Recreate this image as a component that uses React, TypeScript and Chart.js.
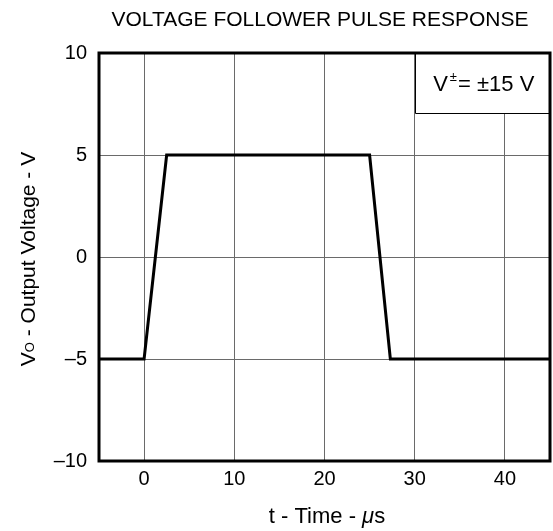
import { useEffect, useRef } from "react";
import { Chart, registerables } from "chart.js";

Chart.register(...registerables);

// ---- data ----
const timeUs = [-5, 0, 2.5, 25, 27.3, 45];
const outputVolts = [-5, -5, 5, 5, -5, -5];
const xTickValues = [0, 10, 20, 30, 40];
const yTickValues = [-10, -5, 0, 5, 10];
const yTickLabels = ["\u201310", "\u20135", "0", "5", "10"];
const titleText = "VOLTAGE FOLLOWER PULSE RESPONSE";
const xTitleMain = "t - Time - ";
const xTitleMu = "\u03bc";
const xTitleUnit = "s";
const yTitleV = "V";
const yTitleSub = "O";
const yTitleRest = " - Output Voltage - V";
const legendV = "V";
const legendSup = "\u00b1";
const legendRest = "= \u00b115 V";
const legendBoxX = 30; // left edge of the condition box (time)
const legendBoxY = 7.05; // bottom edge of the condition box (volts)

const FONT = '"Liberation Sans", Arial, Helvetica, sans-serif';

const decor = {
  id: "decor",
  afterDraw(chart: any) {
    const { ctx, chartArea: ca, scales } = chart;
    const xs = scales.x;
    const ys = scales.y;
    ctx.save();

    // condition box
    const bx = Math.round(xs.getPixelForValue(legendBoxX)) + 0.5;
    const by = Math.round(ys.getPixelForValue(legendBoxY)) + 0.5;
    ctx.fillStyle = "#fff";
    ctx.fillRect(bx, ca.top, ca.right - bx, by - ca.top);
    ctx.strokeStyle = "#000";
    ctx.lineWidth = 1;
    ctx.beginPath();
    ctx.moveTo(bx, ca.top);
    ctx.lineTo(bx, by);
    ctx.lineTo(ca.right, by);
    ctx.stroke();

    // frame
    ctx.lineWidth = 3;
    ctx.strokeRect(ca.left, ca.top, ca.right - ca.left, ca.bottom - ca.top);

    ctx.fillStyle = "#000";
    ctx.textBaseline = "alphabetic";
    ctx.textAlign = "left";

    // condition text
    {
      const big = 22;
      const small = 13;
      ctx.font = `${big}px ${FONT}`;
      const wV = ctx.measureText(legendV).width;
      const wR = ctx.measureText(legendRest).width;
      ctx.font = `${small}px ${FONT}`;
      const wS = ctx.measureText(legendSup).width + 3;
      const total = wV + wS + wR;
      const cx = (bx + ca.right) / 2 + 1;
      const base = (ca.top + by) / 2 + big * 0.358;
      let x = cx - total / 2;
      ctx.font = `${big}px ${FONT}`;
      ctx.fillText(legendV, x, base);
      x += wV + 2;
      ctx.font = `${small}px ${FONT}`;
      ctx.fillText(legendSup, x, base - 10);
      x += wS - 2;
      ctx.font = `${big}px ${FONT}`;
      ctx.fillText(legendRest, x, base);
    }

    // title
    {
      const size = 21;
      ctx.font = `${size}px ${FONT}`;
      ctx.textAlign = "center";
      ctx.fillText(titleText, 320, 18 + size * 0.358);
      ctx.textAlign = "left";
    }

    // x title
    {
      const size = 22;
      ctx.font = `${size}px ${FONT}`;
      const w1 = ctx.measureText(xTitleMain).width;
      const w3 = ctx.measureText(xTitleUnit).width;
      ctx.font = `italic ${size}px ${FONT}`;
      const w2 = ctx.measureText(xTitleMu).width;
      const total = w1 + w2 + w3;
      const cx = 327;
      const base = 515 + size * 0.358;
      let x = cx - total / 2;
      ctx.font = `${size}px ${FONT}`;
      ctx.fillText(xTitleMain, x, base);
      x += w1;
      ctx.font = `italic ${size}px ${FONT}`;
      ctx.fillText(xTitleMu, x, base);
      x += w2;
      ctx.font = `${size}px ${FONT}`;
      ctx.fillText(xTitleUnit, x, base);
    }

    // y title (rotated)
    {
      const size = 21;
      const sub = 13;
      ctx.font = `${size}px ${FONT}`;
      const w1 = ctx.measureText(yTitleV).width;
      const w3 = ctx.measureText(yTitleRest).width;
      ctx.font = `${sub}px ${FONT}`;
      const w2 = ctx.measureText(yTitleSub).width;
      const total = w1 + w2 + w3;
      const cy = 259;
      ctx.translate(27, cy);
      ctx.rotate(-Math.PI / 2);
      const base = size * 0.358;
      let x = -total / 2;
      ctx.font = `${size}px ${FONT}`;
      ctx.fillText(yTitleV, x, base);
      x += w1;
      ctx.font = `${sub}px ${FONT}`;
      ctx.fillText(yTitleSub, x, base - 1);
      x += w2;
      ctx.font = `${size}px ${FONT}`;
      ctx.fillText(yTitleRest, x, base);
    }

    ctx.restore();
  },
};

export default function App() {
  const ref = useRef<HTMLCanvasElement>(null);
  useEffect(() => {
    document.body.style.margin = "0";
    const chart = new Chart(ref.current as HTMLCanvasElement, {
      type: "scatter",
      data: {
        datasets: [
          {
            data: timeUs.map((t, i) => ({ x: t, y: outputVolts[i] })),
            showLine: true,
            borderColor: "#000",
            backgroundColor: "#000",
            borderWidth: 3,
            pointRadius: 0,
            tension: 0,
            fill: false,
          } as any,
        ],
      },
      options: {
        animation: false,
        responsive: false,
        layout: { padding: { top: 53, right: 3, left: 0, bottom: 0 } },
        plugins: {
          legend: { display: false },
          title: { display: false },
          tooltip: { enabled: false },
        },
        scales: {
          x: {
            type: "linear",
            min: -5,
            max: 45,
            afterBuildTicks: (s: any) => {
              s.ticks = xTickValues.map((v) => ({ value: v }));
            },
            afterFit: (s: any) => {
              s.height = 70;
            },
            grid: { color: "#6a6a6a", lineWidth: 1, drawTicks: false },
            border: { display: false },
            ticks: {
              padding: 6,
              color: "#000",
              maxRotation: 0,
              autoSkip: false,
              font: { family: FONT, size: 20 },
              callback: (v: any) => String(v),
            },
          },
          y: {
            type: "linear",
            min: -10,
            max: 10,
            afterBuildTicks: (s: any) => {
              s.ticks = yTickValues.map((v) => ({ value: v }));
            },
            afterFit: (s: any) => {
              s.width = 99;
            },
            grid: { color: "#6a6a6a", lineWidth: 1, drawTicks: false },
            border: { display: false },
            ticks: {
              padding: 12,
              color: "#000",
              autoSkip: false,
              font: { family: FONT, size: 20 },
              callback: (v: any) => {
                const i = yTickValues.indexOf(Number(v));
                return i >= 0 ? yTickLabels[i] : "";
              },
            },
          },
        },
      } as any,
      plugins: [decor],
    });
    return () => chart.destroy();
  }, []);
  return <canvas ref={ref} width={553} height={531} style={{ display: "block" }} />;
}
